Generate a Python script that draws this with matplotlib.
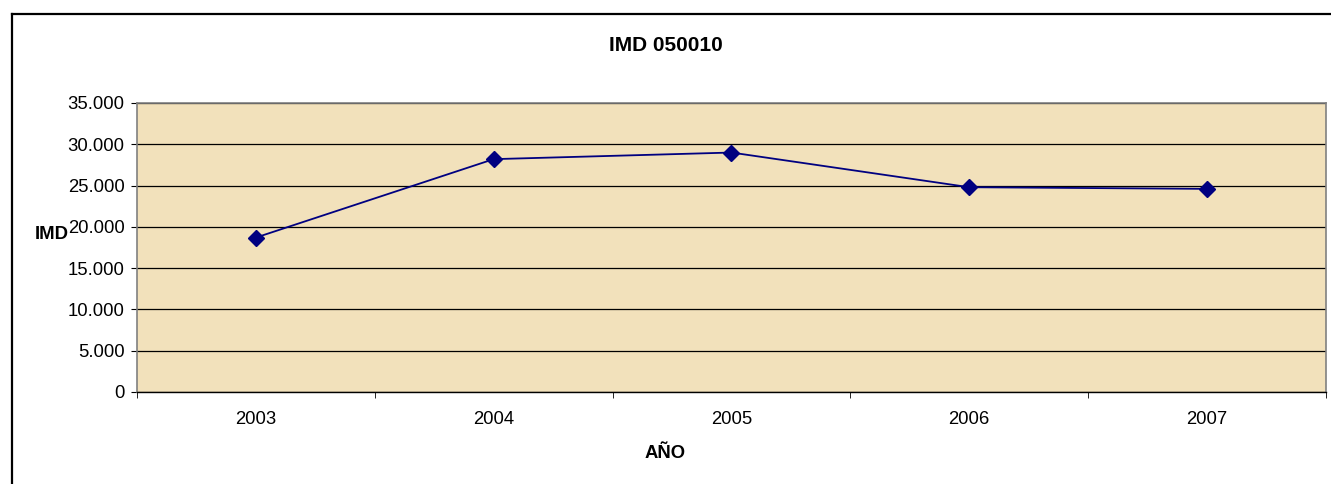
import matplotlib
matplotlib.use("Agg")
import matplotlib.pyplot as plt
from matplotlib.lines import Line2D
from matplotlib.ticker import FuncFormatter, FixedLocator

years = ["2003", "2004", "2005", "2006", "2007"]
imd = [18700, 28200, 29000, 24800, 24600]
y_ticks = [0, 5000, 10000, 15000, 20000, 25000, 30000, 35000]

plt.rcParams['font.family'] = ['Liberation Sans', 'DejaVu Sans']

fig = plt.figure(figsize=(13.31, 4.84), dpi=100)
ax = fig.add_axes([0.1029, 0.1901, 0.8933, 0.5971])
ax.set_facecolor('#F2E1BB')

x = list(range(len(years)))
ax.plot(x, imd, color='#000080', linewidth=1.3, marker='D',
        markersize=8, markerfacecolor='#000080', markeredgecolor='#000080',
        zorder=3)

ax.set_ylim(0, 35000)
ax.set_xlim(-0.5, len(years) - 0.5)
ax.set_yticks(y_ticks)
ax.yaxis.set_major_formatter(FuncFormatter(
    lambda v, p: "0" if v == 0 else "{:,.0f}".format(v).replace(",", ".")))
ax.grid(axis='y', color='black', linewidth=0.9)
ax.set_axisbelow(True)

# category labels centred, tick marks between categories
ax.set_xticks(x)
ax.set_xticklabels(years)
ax.tick_params(axis='x', which='major', length=0, pad=14, labelsize=13.3)
ax.xaxis.set_minor_locator(FixedLocator([i - 0.5 for i in range(len(years) + 1)]))
ax.tick_params(axis='x', which='minor', length=4, direction='out', color='black')
ax.tick_params(axis='y', length=4, pad=5, labelsize=13.3)

for side in ['top', 'right', 'left']:
    ax.spines[side].set_color('#808080')
    ax.spines[side].set_linewidth(1.2)
ax.spines['bottom'].set_color('black')
ax.spines['bottom'].set_linewidth(1.0)

fig.text(0.5, 0.905, "IMD 050010", ha='center', va='center',
         fontsize=15, fontweight='bold')
fig.text(0.5, 0.064, "AÑO", ha='center', va='center',
         fontsize=13.3, fontweight='bold')
fig.text(0.0515, 0.5145, "IMD", ha='right', va='center',
         fontsize=13.3, fontweight='bold')

# outer chart frame (top and left visible)
fig.add_artist(Line2D([0.009, 1.0], [0.971, 0.971], transform=fig.transFigure,
                      color='black', linewidth=1.6))
fig.add_artist(Line2D([0.009, 0.009], [0.0, 0.971], transform=fig.transFigure,
                      color='black', linewidth=1.6))

fig.savefig("out.png", dpi=100)
